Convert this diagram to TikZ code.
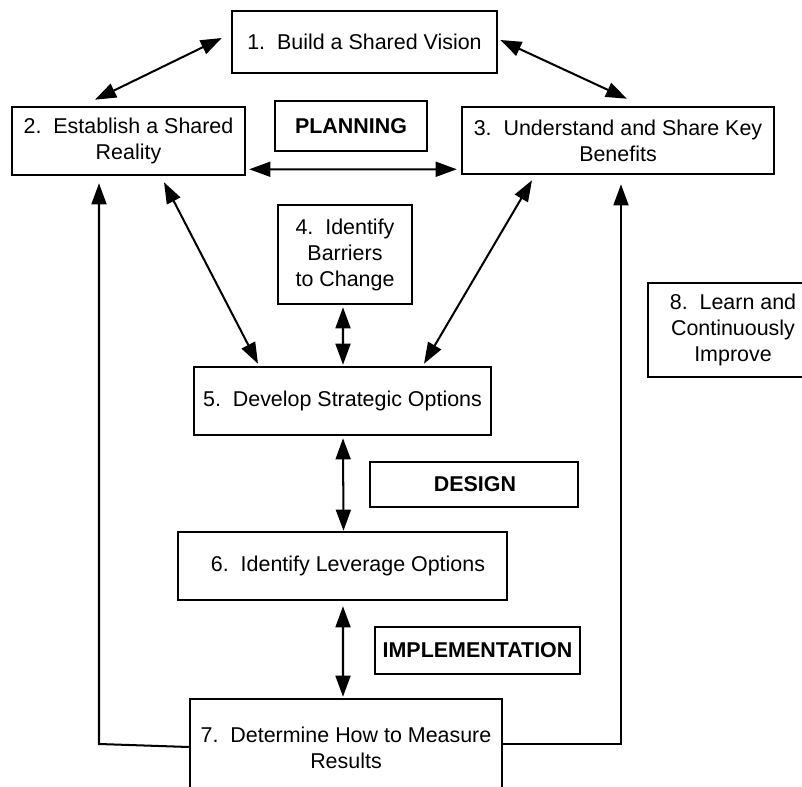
\documentclass[tikz,border=0pt]{standalone}
\usepackage{fontspec}
\setmainfont{Liberation Sans}
\usetikzlibrary{arrows.meta}
\tikzset{
  box/.style={draw, line width=1.45pt, inner sep=0pt, align=center,
    font=\fontsize{12.2}{14.8}\selectfont},
  phase/.style={box, font=\fontsize{12.2}{14.8}\selectfont\bfseries},
  darr/.style={line width=1.15pt, {Triangle[length=12pt,width=8.5pt]}-{Triangle[length=12pt,width=8.5pt]}},
  sarr/.style={line width=1.15pt, -{Triangle[length=12pt,width=8.5pt]}},
}
\begin{document}
\begin{tikzpicture}[x=0.02cm,y=-0.02cm]
\useasboundingbox (0,0) rectangle (802,787);
\fill[white] (0,0) rectangle (802,787);
\clip (0,0) rectangle (802,787);

\node[box, minimum width=53mm, minimum height=12.4mm] (b1) at (364.5,42) {1.\ \ Build a Shared Vision};
\node[box, minimum width=46.6mm, minimum height=13.6mm] (b2) at (128.5,141) {2.\ \ Establish a Shared\\Reality};
\node[phase, minimum width=30.4mm, minimum height=10mm] (plan) at (351,126) {PLANNING};
\node[box, minimum width=62.4mm, minimum height=13.4mm] (b3) at (618,140.5) {3.\ \ Understand and Share Key\\Benefits};
\node[box, minimum width=26.8mm, minimum height=19.8mm] (b4) at (345,254.5) {4.\ \ Identify\\Barriers\\to Change};
\node[box, minimum width=59.4mm, minimum height=13.6mm] (b5) at (342.5,401) {5.\ \ Develop Strategic Options};
\node[phase, minimum width=41.6mm, minimum height=9mm] (design) at (474,484.5) {\hspace*{0.4mm}DESIGN};
\node[box, minimum width=65.8mm, minimum height=13.6mm] (b6) at (342.5,566) {\hspace*{2.2mm}6.\ \ Identify Leverage Options};
\node[phase, minimum width=41mm, minimum height=9.4mm] (impl) at (477.5,650.5) {IMPLEMENTATION};
\node[box, minimum width=62.4mm, minimum height=19.6mm] (b7) at (346,748) {7.\ \ Determine How to Measure\\Results};
\node[box, minimum width=34mm, minimum height=18.8mm] (b8) at (733,330) {8.\ \ Learn and\\Continuously\\Improve};

% connectors
\draw[darr] ([shift={(-9,-4)}]b1.west) -- ([shift={(-33.5,-6)}]b2.north);
\draw[darr] ([shift={(2,-2)}]b1.east) -- ([shift={(9,-7)}]b3.north);
\draw[darr] ([shift={(3,-7)}]b2.south east) -- ([shift={(-4,-6)}]b3.south west);
\draw[darr] ([shift={(35.5,6)}]b2.south) -- ([shift={(-84.5,-2)}]b5.north);
\draw[darr] ([shift={(-86,5)}]b3.south) -- ([shift={(81.5,-2)}]b5.north);
\draw[darr] ([shift={(-2,2)}]b4.south) -- ([shift={(0.5,-1)}]b5.north);
\draw[darr] ([shift={(0.5,2)}]b5.south) -- ([shift={(1,0)}]b6.north);
\draw[darr] ([shift={(0.5,5)}]b6.south) -- ([shift={(-3,-1)}]b7.north);

% feedback lines
\coordinate (cl) at (99,744);
\draw[sarr] ([shift={(0,-1)}]b7.west) -- (cl) -- ([shift={(-29.5,7)}]b2.south);
\draw[sarr] ([shift={(0,-4)}]b7.east) -| ([shift={(3,9)}]b3.south);
\end{tikzpicture}
\end{document}
